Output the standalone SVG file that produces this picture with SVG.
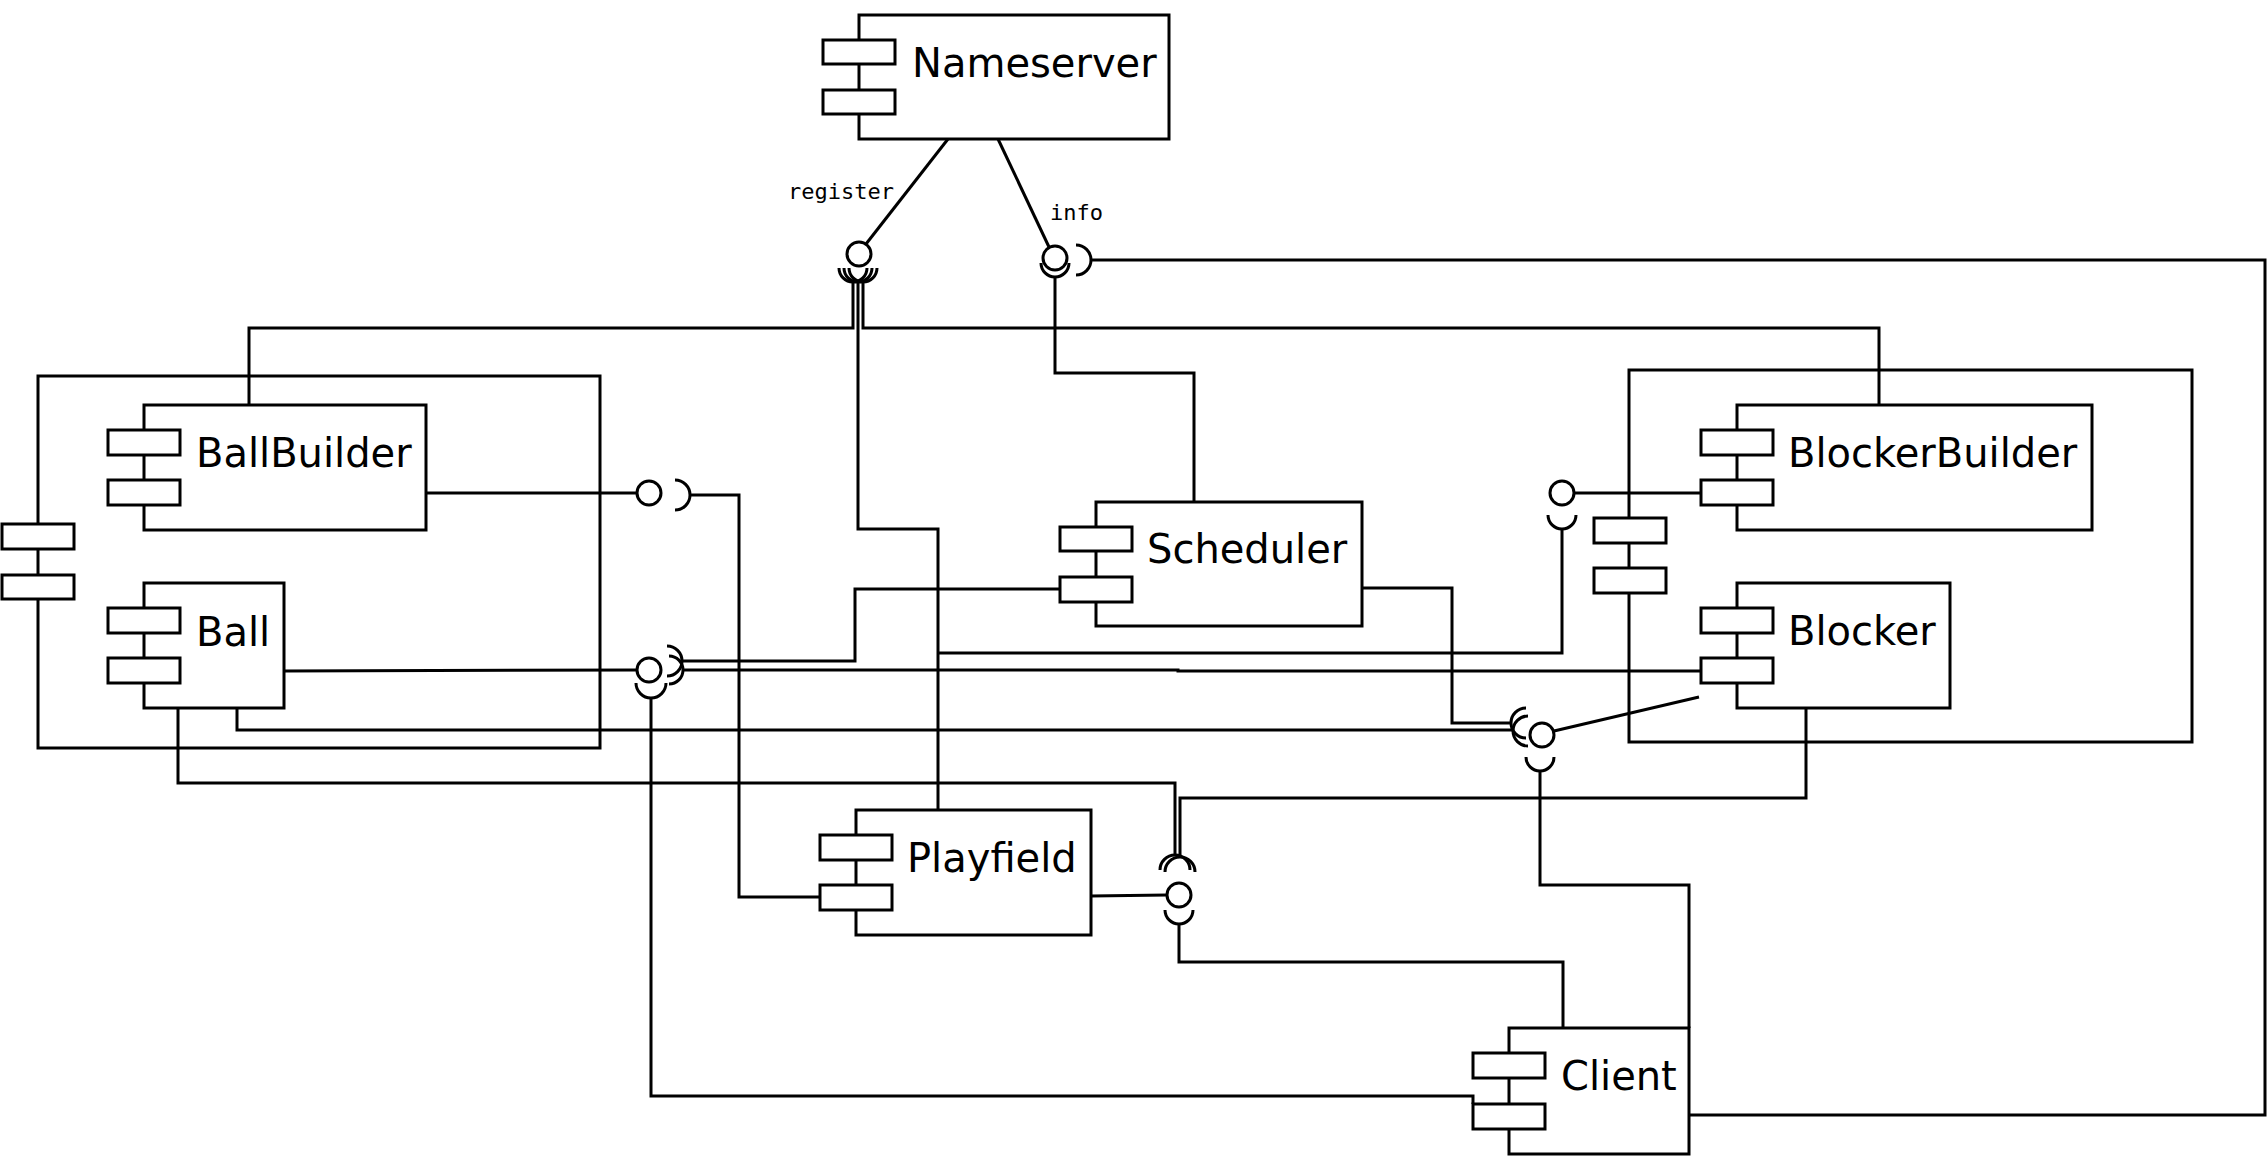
<svg xmlns="http://www.w3.org/2000/svg" width="2268" height="1169" viewBox="0 0 2268 1169">
<style>
.box{fill:#fff;stroke:#000;stroke-width:3}
.pkg{fill:none;stroke:#000;stroke-width:3}
.port{fill:#fff;stroke:#000;stroke-width:3}
.lbl{font-family:"DejaVu Sans",sans-serif;font-size:40px;fill:#000}
.mono{font-family:"DejaVu Sans Mono",monospace;font-size:22px;fill:#000}
.wire{fill:none;stroke:#000;stroke-width:3;stroke-linejoin:miter}
.ball{fill:#fff;stroke:#000;stroke-width:3}
</style>
<rect width="2268" height="1169" fill="#fff"/>

<g id="ball-package">
  <rect class="pkg" x="38" y="376" width="562" height="372"/>
  <rect class="port" x="2" y="524" width="72" height="25"/>
  <rect class="port" x="2" y="575" width="72" height="24"/>
</g>
<g id="blocker-package">
  <rect class="pkg" x="1629" y="370" width="563" height="372"/>
  <rect class="port" x="1594" y="518" width="72" height="25"/>
  <rect class="port" x="1594" y="568" width="72" height="25"/>
</g>

<g id="nameserver">
  <rect class="box" x="859" y="15" width="310" height="124"/>
  <rect class="port" x="823" y="40" width="72" height="24"/>
  <rect class="port" x="823" y="90" width="72" height="24"/>
  <text class="lbl" x="912" y="77">Nameserver</text>
</g>
<g id="ballbuilder">
  <rect class="box" x="144" y="405" width="282" height="125"/>
  <rect class="port" x="108" y="430" width="72" height="25"/>
  <rect class="port" x="108" y="480" width="72" height="25"/>
  <text class="lbl" x="196" y="467">BallBuilder</text>
</g>
<g id="ball">
  <rect class="box" x="144" y="583" width="140" height="125"/>
  <rect class="port" x="108" y="608" width="72" height="25"/>
  <rect class="port" x="108" y="658" width="72" height="25"/>
  <text class="lbl" x="196" y="646">Ball</text>
</g>
<g id="scheduler">
  <rect class="box" x="1096" y="502" width="266" height="124"/>
  <rect class="port" x="1060" y="527" width="72" height="24"/>
  <rect class="port" x="1060" y="577" width="72" height="25"/>
  <text class="lbl" x="1147" y="563">Scheduler</text>
</g>
<g id="playfield">
  <rect class="box" x="856" y="810" width="235" height="125"/>
  <rect class="port" x="820" y="835" width="72" height="25"/>
  <rect class="port" x="820" y="885" width="72" height="25"/>
  <text class="lbl" x="907" y="872">Playfield</text>
</g>
<g id="client">
  <rect class="box" x="1509" y="1028" width="180" height="126"/>
  <rect class="port" x="1473" y="1053" width="72" height="25"/>
  <rect class="port" x="1473" y="1104" width="72" height="25"/>
  <text class="lbl" x="1561" y="1090">Client</text>
</g>
<g id="blockerbuilder">
  <rect class="box" x="1737" y="405" width="355" height="125"/>
  <rect class="port" x="1701" y="430" width="72" height="25"/>
  <rect class="port" x="1701" y="480" width="72" height="25"/>
  <text class="lbl" x="1788" y="467">BlockerBuilder</text>
</g>
<g id="blocker">
  <rect class="box" x="1737" y="583" width="213" height="125"/>
  <rect class="port" x="1701" y="608" width="72" height="25"/>
  <rect class="port" x="1701" y="658" width="72" height="25"/>
  <text class="lbl" x="1788" y="645">Blocker</text>
</g>

<g id="connectors">
  <!-- Nameserver provided interfaces -->
  <line class="wire" x1="948" y1="139" x2="866" y2="244"/>
  <line class="wire" x1="998" y1="139" x2="1049" y2="247"/>
  <text class="mono" x="788" y="199">register</text>
  <text class="mono" x="1050" y="220">info</text>

  <!-- register sockets -->
  <path class="wire" d="M839,268 A14,14 0 0 0 867,268"/>
  <path class="wire" d="M844,268 A14,14 0 0 0 872,268"/>
  <path class="wire" d="M849,268 A14,14 0 0 0 877,268"/>
  <polyline class="wire" points="853,281 853,328 249,328 249,405"/>
  <polyline class="wire" points="858,282 858,529 938,529 938,810"/>
  <polyline class="wire" points="863,281 863,328 1879,328 1879,405"/>

  <!-- info sockets -->
  <path class="wire" d="M1041,263 A14,14 0 0 0 1069,263"/>
  <polyline class="wire" points="1055,277 1055,373 1194,373 1194,502"/>
  <path class="wire" d="M1076,245 A15,15 0 0 1 1076,275"/>
  <polyline class="wire" points="1091,260 2265,260 2265,1115 1689,1115"/>

  <!-- BallBuilder interface -->
  <line class="wire" x1="426" y1="493" x2="637" y2="493"/>
  <path class="wire" d="M675,480 A15,15 0 0 1 675,510"/>
  <polyline class="wire" points="690,495 739,495 739,897 820,897"/>

  <!-- Ball interface -->
  <polyline class="wire" points="284,671 637,670"/>
  <path class="wire" d="M636,683 A15,15 0 0 0 666,683"/>
  <polyline class="wire" points="651,698 651,1096 1473,1096 1473,1104"/>
  <path class="wire" d="M667,646 A15,15 0 0 1 667,676"/>
  <polyline class="wire" points="682,661 855,661 855,589 1060,589"/>
  <path class="wire" d="M669,656 A14,14 0 0 1 669,684"/>
  <polyline class="wire" points="683,670 1178,670 1178,671 1701,671"/>

  <!-- Ball bottom connections -->
  <polyline class="wire" points="237,708 237,730 1512,730"/>
  <polyline class="wire" points="178,708 178,783 1175,783 1175,855"/>

  <!-- Scheduler to Blocker interface -->
  <polyline class="wire" points="1362,588 1452,588 1452,723 1510,723"/>
  <path class="wire" d="M1526,708 A15,15 0 0 0 1526,738"/>
  <path class="wire" d="M1528,716 A15,15 0 0 0 1528,746"/>

  <!-- Blocker interface -->
  <line class="wire" x1="1554" y1="731" x2="1699" y2="697"/>
  <path class="wire" d="M1526,757 A14,14 0 0 0 1554,757"/>
  <polyline class="wire" points="1540,771 1540,885 1689,885 1689,1028"/>

  <!-- BlockerBuilder interface -->
  <line class="wire" x1="1574" y1="493" x2="1701" y2="493"/>
  <path class="wire" d="M1548,515 A14,14 0 0 0 1576,515"/>
  <polyline class="wire" points="1562,529 1562,653 938,653"/>

  <!-- Blocker bottom -->
  <polyline class="wire" points="1806,708 1806,798 1180,798 1180,857"/>

  <!-- Playfield interface -->
  <line class="wire" x1="1091" y1="896" x2="1167" y2="895"/>
  <path class="wire" d="M1160,870 A15,15 0 0 1 1190,870"/>
  <path class="wire" d="M1165,872 A15,15 0 0 1 1195,872"/>
  <path class="wire" d="M1165,910 A14,14 0 0 0 1193,910"/>
  <polyline class="wire" points="1179,924 1179,962 1563,962 1563,1028"/>

  <!-- lollipop balls -->
  <circle class="ball" cx="859" cy="254" r="12"/>
  <circle class="ball" cx="1055" cy="258" r="12"/>
  <circle class="ball" cx="649" cy="493" r="12"/>
  <circle class="ball" cx="649" cy="670" r="12"/>
  <circle class="ball" cx="1542" cy="735" r="12"/>
  <circle class="ball" cx="1562" cy="493" r="12"/>
  <circle class="ball" cx="1179" cy="895" r="12"/>
</g>
</svg>
